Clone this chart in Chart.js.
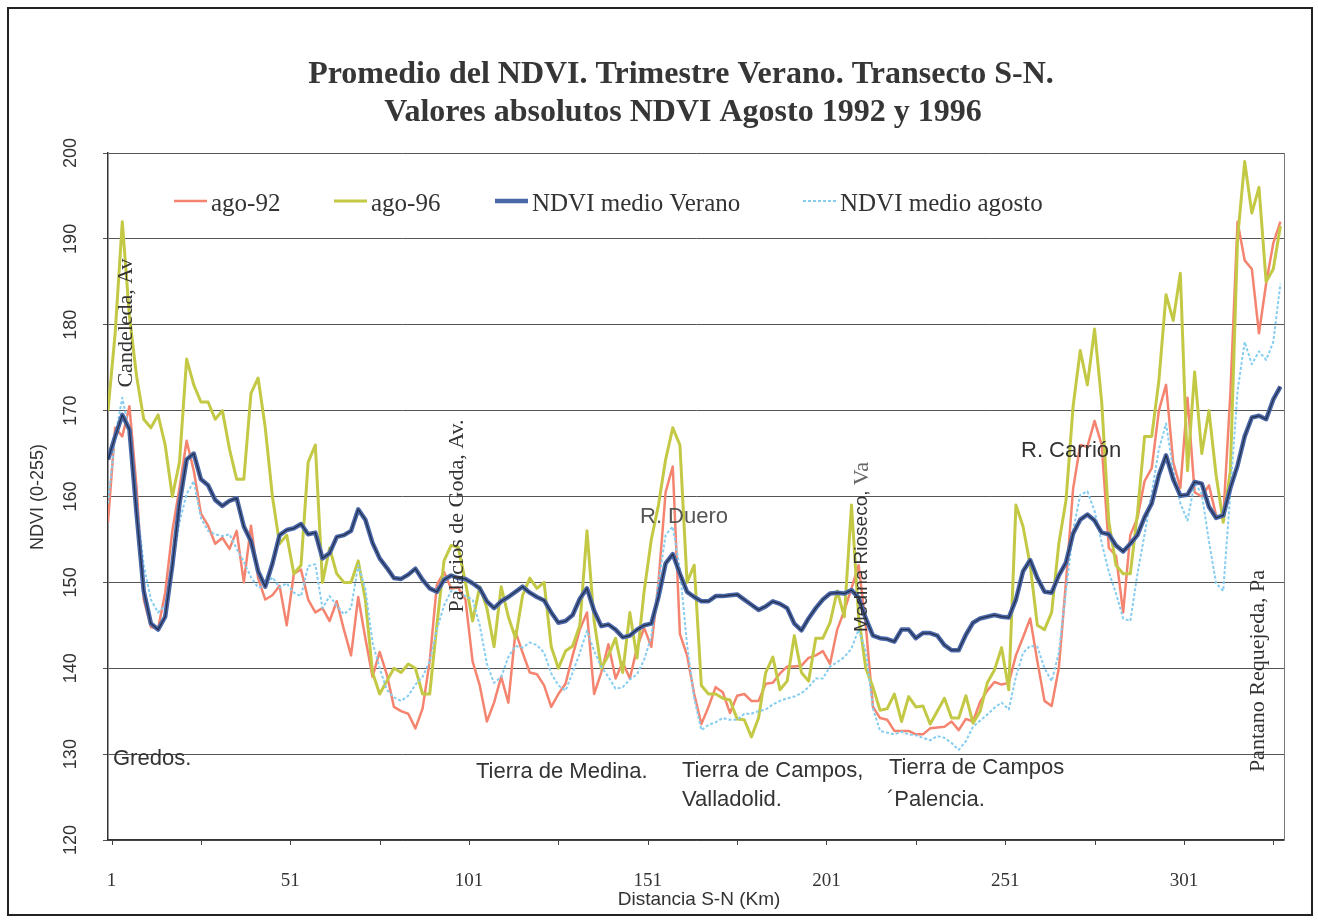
<!DOCTYPE html>
<html>
<head>
<meta charset="utf-8">
<title>Promedio del NDVI - Transecto S-N</title>
<script src="https://cdn.jsdelivr.net/npm/chart.js@4.4.0/dist/chart.umd.min.js"></script>
<style>
  html, body { margin: 0; padding: 0; background: #fff; }
  #wrap { width: 1318px; height: 921px; }
</style>
</head>
<body>
<div id="wrap"><canvas id="chart" width="1318" height="921"></canvas></div>
<script>
// Transect S-N, one reading every 2 km (0 .. 328)
const STEP_KM = 2;
const kmPoints = Array.from({ length: 165 }, (_, i) => i * STEP_KM);

const xTickLabels = [1, 51, 101, 151, 201, 251, 301];
const yTickLabels = [120, 130, 140, 150, 160, 170, 180, 190, 200];

const ago92 = [
  157, 168, 167, 170.5, 161, 148, 144.8, 144.6, 148.8, 156,
  161, 166.5, 163, 158, 156.6, 154.5, 155.2, 153.9, 156, 150,
  156.6, 150.5, 148, 148.5, 149.6, 145, 151, 151.5, 148, 146.5,
  147, 145.5, 147.8, 144.5, 141.5, 148.3, 143.5, 139, 141.9, 139.3,
  135.5, 135, 134.7, 133, 135.3, 140.8, 149.7, 151.2, 149.3, 149.4,
  148, 140.8, 138, 133.8, 136, 139, 136, 144.3, 141.8, 139.5,
  139.3, 138, 135.5, 137, 138.2, 141.5, 144.5, 146.5, 137, 139.5,
  142.8, 138.8, 140.7, 138.8, 142.4, 144.7, 142.5, 150, 160.5, 163.5,
  144, 141.5, 137, 133.5, 135.5, 137.8, 137.2, 134.8, 136.8, 137,
  136.2, 136.2, 138.2, 138.3, 139.4, 140.2, 140.2, 140.3, 141.2, 141.5,
  142, 140.5, 144.5, 146.7, 149.3, 152, 145, 135.5, 134.2, 134,
  132.7, 132.7, 132.7, 132.3, 132.3, 133, 133.1, 133.2, 133.8, 132.8,
  134.1, 133.8, 136.1, 137.4, 138.4, 138.1, 138.3, 141.5, 143.6, 145.8,
  140.8, 136.2, 135.6, 140, 150, 160.9, 166, 165.8, 168.8, 166,
  154, 153.1, 146.5, 155.5, 157.5, 161.8, 163.3, 170, 173, 164,
  161, 171.5, 160.5, 160, 161.3, 157.8, 157.5, 172, 192, 187.5,
  186.5, 179, 184.8, 189.5, 192
];

const ago96 = [
  170, 179, 192, 181, 174, 169, 168, 169.5, 166, 160,
  164, 176, 173, 171, 171, 169, 170, 165.5, 162, 162,
  172, 173.8, 168, 160, 154.5, 155.5, 151, 152, 164, 166,
  150, 154, 151, 150, 150, 152.5, 148, 139.5, 137, 138.5,
  140, 139.5, 140.5, 140, 137, 137, 145, 152.5, 154.3, 154.1,
  150, 145.5, 149.5, 147, 142.5, 149.5, 146, 143.5, 148.5, 150.5,
  149.3, 150, 142.5, 140, 142, 142.6, 145, 156, 145.5, 140,
  141.5, 143.5, 139.5, 146.5, 141.2, 149, 155, 159, 164.3, 168,
  166, 150, 152, 138, 137, 137, 136.5, 136.3, 134.1, 134,
  132, 134.2, 139.5, 141.3, 137.5, 138.5, 143.8, 139.5, 138.5, 143.5,
  143.5, 145.3, 149, 146, 159, 146, 140, 137.8, 135.1, 135.3,
  137, 133.8, 136.7, 135.5, 135.6, 133.5, 135, 136.5, 134.2, 134.2,
  136.8, 133.6, 135, 138.3, 139.8, 142.4, 137.5, 159, 156.5, 152,
  145, 144.5, 146.5, 154.5, 159.5, 170.5, 177, 173, 179.5, 171,
  157, 152, 151, 151, 158, 167, 167, 173.5, 183.5, 180.5,
  186, 163, 174.5, 165, 170, 162.5, 157, 163, 190, 199,
  193, 196, 185, 186.5, 191.5
];

const mediaVerano = [
  164.3, 167, 169.5, 167.8, 158, 149, 145.2, 144.5, 146, 152,
  159.2, 164.3, 165, 162, 161.3, 159.6, 158.9, 159.5, 159.8, 156.5,
  154.8, 151.3, 149.5, 152.2, 155.5, 156.1, 156.3, 156.8, 155.6, 155.8,
  152.8, 153.4, 155.3, 155.5, 156, 158.5, 157.3, 154.6, 152.8, 151.7,
  150.5, 150.4, 150.9, 151.6, 150.3, 149.3, 148.9, 150.3, 150.8, 150.5,
  150.4, 149.9, 149.3, 147.8, 147, 147.8, 148.3, 148.9, 149.5, 148.8,
  148.3, 147.9, 146.5, 145.3, 145.5, 146.2, 148.1, 149.3, 146.7, 144.9,
  145.1, 144.5, 143.6, 143.8, 144.5, 145, 145.2, 148.3, 152.2, 153.3,
  151, 148.9, 148.3, 147.8, 147.8, 148.4, 148.4, 148.5, 148.6, 148,
  147.4, 146.8, 147.2, 147.8, 147.5, 147, 145.2, 144.4, 145.8, 147,
  148, 148.7, 148.8, 148.7, 149.1, 148.2, 145.8, 143.8, 143.5, 143.4,
  143.1, 144.5, 144.5, 143.5, 144.1, 144.1, 143.8, 142.7, 142.1, 142.1,
  143.9, 145.3, 145.8, 146, 146.2, 146, 145.9, 148, 151.3, 152.6,
  150.5, 148.9, 148.8, 150.8, 152.3, 155.7, 157.3, 157.9, 157.2, 155.8,
  155.6, 154.3, 153.6, 154.5, 155.5, 157.6, 159.2, 162.5, 164.8, 162,
  160.1, 160.2, 161.7, 161.5, 158.8, 157.5, 157.8, 161, 163.6, 167,
  169.2, 169.4, 169, 171.3, 172.8
];

const mediaAgosto = [
  159.2, 167, 171.5, 167.5, 159.3, 152, 148, 146.5, 147.3, 151.8,
  157, 160.3, 161.8, 157.5, 156, 155.6, 155.4, 155.6, 153.9, 152.4,
  150.6, 149.4, 149.5, 150.6, 149.4, 149.9, 148.8, 148.4, 151.9, 152.1,
  147, 148.4, 147.3, 146.3, 147, 152, 149.2, 143, 140, 137.5,
  136.6, 136.2, 136.8, 138.1, 139, 140.8, 144.5, 147.3, 149, 148.8,
  148.4, 148, 145, 140.5, 138.3, 139, 141.3, 142.6, 142.4, 143,
  142.7, 141.8, 139.4, 138, 137.4, 139.5, 141.8, 144.4, 142, 140.2,
  139, 137.6, 137.8, 138.7, 139.3, 141, 143.7, 150, 155.5, 156.5,
  151.5, 142.7, 136.5, 132.8, 133.4, 133.7, 134.2, 134, 134, 134.7,
  134.7, 135, 135.2, 135.8, 136.2, 136.5, 136.7, 137.1, 137.8, 138.8,
  138.8, 140.2, 140.7, 141.3, 142.3, 144.5, 142, 135.3, 132.7, 132.5,
  132.3, 132.6, 132.3, 132.2, 131.9, 131.6, 132.1, 131.9, 131.3, 130.5,
  131.5, 133.2, 133.9, 134.6, 135.4, 136, 135.2, 139, 141.8, 142.6,
  142.5, 140, 138.5, 141.8, 149, 156, 160.2, 160.6, 158.3, 154.6,
  151.2, 148.7, 145.8, 145.5, 151, 155.6, 160.4, 165.5, 168.5, 163,
  159.2, 157.2, 161.6, 160.3, 154.8, 149.9, 149, 160.5, 172.3, 178,
  175.4, 176.9, 175.9, 178, 184.8
];

const SERIF = '"Liberation Serif", "Times New Roman", serif';
const SANS = '"Liberation Sans", Arial, sans-serif';
const INK = '#333';

const toPoints = arr => arr.map((v, i) => ({ x: kmPoints[i], y: v }));

// small helper for canvas text, optionally rotated a quarter turn
function text(ctx, s, x, y, font, color, align, rotated) {
  ctx.save();
  ctx.font = font;
  ctx.fillStyle = color || INK;
  ctx.textAlign = align || 'left';
  ctx.textBaseline = 'middle';
  ctx.translate(x, y);
  if (rotated) ctx.rotate(-Math.PI / 2);
  ctx.fillText(s, 0, 0);
  ctx.restore();
}

const frame = {
  id: 'frame',
  beforeDraw(chart) {
    const ctx = chart.ctx;
    ctx.save();
    ctx.fillStyle = '#fff';
    ctx.fillRect(0, 0, chart.width, chart.height);
    ctx.strokeStyle = '#222';
    ctx.lineWidth = 2;
    ctx.strokeRect(8, 8, 1304, 907);
    ctx.restore();
  },
  afterDatasetsDraw(chart) {
    // dark core of the summer mean line
    const meta = chart.getDatasetMeta(2);
    const ctx = chart.ctx;
    ctx.save();
    ctx.beginPath();
    meta.data.forEach((p, i) => i ? ctx.lineTo(p.x, p.y) : ctx.moveTo(p.x, p.y));
    ctx.strokeStyle = 'rgba(25,30,50,0.75)';
    ctx.lineWidth = 1.3;
    ctx.lineJoin = 'round';
    ctx.stroke();
    ctx.restore();
  },
  afterDraw(chart) {
    const ctx = chart.ctx;
    const xs = chart.scales.x, ys = chart.scales.y;
    const area = chart.chartArea;

    // right edge of plot
    ctx.save();
    ctx.strokeStyle = '#777';
    ctx.lineWidth = 1;
    ctx.beginPath();
    ctx.moveTo(area.right + 0.5, area.top);
    ctx.lineTo(area.right + 0.5, area.bottom);
    ctx.stroke();
    // small ticks under the category axis
    ctx.strokeStyle = '#444';
    for (let k = 1; k <= 326; k += 25) {
      const px = Math.round(xs.getPixelForValue(k)) + 0.5;
      ctx.beginPath();
      ctx.moveTo(px, area.bottom);
      ctx.lineTo(px, area.bottom + 5);
      ctx.stroke();
    }
    ctx.restore();

    // title
    const tFont = 'bold 32px ' + SERIF;
    text(ctx, 'Promedio del NDVI. Trimestre Verano. Transecto S-N.', 681, 75, tFont, '#363636', 'center');
    text(ctx, 'Valores absolutos NDVI Agosto 1992 y 1996', 683, 113, tFont, '#363636', 'center');

    // axes labels
    yTickLabels.forEach(v => {
      text(ctx, String(v), 71, ys.getPixelForValue(v), '18px ' + SANS, INK, 'center', true);
    });
    text(ctx, 'NDVI (0-255)', 38, 497, '18px ' + SANS, INK, 'center', true);
    xTickLabels.forEach(k => {
      text(ctx, String(k), xs.getPixelForValue(k), 881, '19px ' + SERIF, INK, 'center');
    });
    text(ctx, 'Distancia S-N (Km)', 699, 900, '19px ' + SANS, INK, 'center');

    // legend inside the plot
    const legend = [
      { label: 'ago-92', ds: 0, x: 174 },
      { label: 'ago-96', ds: 1, x: 334 },
      { label: 'NDVI medio Verano', ds: 2, x: 495 },
      { label: 'NDVI medio agosto', ds: 3, x: 803 }
    ];
    legend.forEach(item => {
      const ds = chart.data.datasets[item.ds];
      ctx.save();
      ctx.strokeStyle = ds.borderColor;
      ctx.lineWidth = ds.borderWidth;
      ctx.setLineDash(ds.borderDash || []);
      ctx.beginPath();
      ctx.moveTo(item.x, 201);
      ctx.lineTo(item.x + 33, 201);
      ctx.stroke();
      ctx.restore();
      text(ctx, item.label, item.x + 37, 204, '25px ' + SERIF, INK, 'left');
    });

    // place names along the transect
    const rf = '22px ' + SERIF;
    text(ctx, 'Candeleda, Av', 126, 323, rf, INK, 'center', true);
    text(ctx, 'Palacios de Goda, Av.', 457, 516, rf, INK, 'center', true);
    text(ctx, 'Pantano Requejeda, Pa', 1258, 671, rf, INK, 'center', true);
    ctx.save();
    ctx.translate(862, 632);
    ctx.rotate(-Math.PI / 2);
    ctx.textBaseline = 'middle';
    ctx.font = '19px ' + SANS;
    ctx.fillStyle = INK;
    ctx.fillText('Medina Rioseco,', 0, 0);
    const w = ctx.measureText('Medina Rioseco, ').width;
    ctx.font = '22px ' + SERIF;
    ctx.fillStyle = '#666';
    ctx.fillText('Va', w, 0);
    ctx.restore();

    const hf = '22px ' + SANS;
    text(ctx, 'Gredos.', 113, 759, hf);
    text(ctx, 'Tierra de Medina.', 476, 772, hf);
    text(ctx, 'R. Duero', 640, 517, hf, '#555');
    text(ctx, 'Tierra de Campos,', 682, 771, hf);
    text(ctx, 'Valladolid.', 682, 800, hf);
    text(ctx, 'Tierra de Campos', 889, 768, hf);
    text(ctx, '\u00B4Palencia.', 887, 800, hf);
    text(ctx, 'R. Carri\u00F3n', 1021, 451, hf);
  }
};

new Chart(document.getElementById('chart'), {
  type: 'line',
  data: {
    datasets: [
      { label: 'ago-92', data: toPoints(ago92), borderColor: '#F4846F', borderWidth: 2.5, order: 3 },
      { label: 'ago-96', data: toPoints(ago96), borderColor: '#C3C945', borderWidth: 3, order: 2 },
      { label: 'NDVI medio Verano', data: toPoints(mediaVerano), borderColor: '#4A68A8', borderWidth: 4.5, order: 0 },
      { label: 'NDVI medio agosto', data: toPoints(mediaAgosto), borderColor: '#86CDF0', borderWidth: 2, borderDash: [3, 2], order: 1 }
    ]
  },
  options: {
    responsive: false,
    animation: false,
    devicePixelRatio: 1,
    layout: { padding: { top: 153, right: 34, left: 0, bottom: 0 } },
    elements: { point: { radius: 0 }, line: { tension: 0, borderJoinStyle: 'round' } },
    plugins: { legend: { display: false }, tooltip: { enabled: false } },
    scales: {
      x: {
        type: 'linear',
        min: 0,
        max: 329,
        ticks: { display: false },
        grid: { display: false },
        border: { color: '#333', width: 1.5 },
        afterFit: s => { s.height = 81; }
      },
      y: {
        min: 120,
        max: 200,
        ticks: { display: false, stepSize: 10 },
        grid: { color: '#555', lineWidth: 1, tickLength: 5 },
        border: { color: '#333', width: 1.5 },
        afterFit: s => { s.width = 108; }
      }
    }
  },
  plugins: [frame]
});
</script>
</body>
</html>
